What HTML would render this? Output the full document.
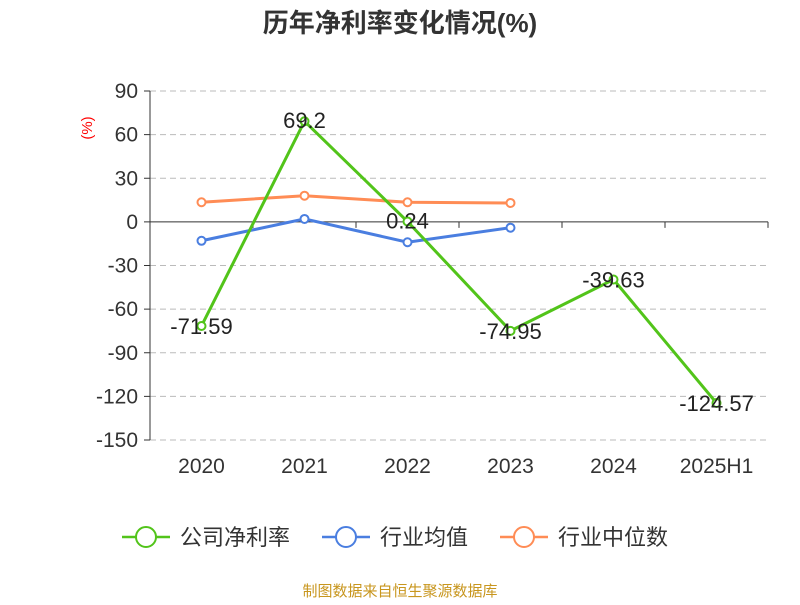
<!DOCTYPE html>
<html><head><meta charset="utf-8"><style>
body{margin:0;background:#fff;font-family:"Liberation Sans","Noto Sans CJK SC",sans-serif;}
svg text{font-family:"Liberation Sans","Noto Sans CJK SC",sans-serif;}
</style></head><body>
<svg id="c" width="800" height="600" viewBox="0 0 800 600">
<text x="400" y="32" text-anchor="middle" font-size="26" font-weight="bold" fill="#333">历年净利率变化情况(%)</text>
<text x="92" y="128" font-size="15" fill="red" transform="rotate(-90 92 128)" text-anchor="middle">(%)</text>
<g id="grid"></g><g id="series"></g>
<g>
<g><line x1="122" y1="537" x2="170" y2="537" stroke="#52c41a" stroke-width="2.5"/><circle cx="146" cy="537" r="10" fill="#fff" stroke="#52c41a" stroke-width="2"/><text x="180" y="545" font-size="22" fill="#333">公司净利率</text></g>
<g><line x1="322" y1="537" x2="370" y2="537" stroke="#4a7ee0" stroke-width="2.5"/><circle cx="346" cy="537" r="10" fill="#fff" stroke="#4a7ee0" stroke-width="2"/><text x="380" y="545" font-size="22" fill="#333">行业均值</text></g>
<g><line x1="500" y1="537" x2="548" y2="537" stroke="#ff8c55" stroke-width="2.5"/><circle cx="524" cy="537" r="10" fill="#fff" stroke="#ff8c55" stroke-width="2"/><text x="558" y="545" font-size="22" fill="#333">行业中位数</text></g>
</g>
<text x="400" y="596" text-anchor="middle" font-size="15" fill="#c8961e">制图数据来自恒生聚源数据库</text>
</svg>
<script>
const categories=["2020","2021","2022","2023","2024","2025H1"];
const companyValues=[-71.59,69.2,0.24,-74.95,-39.63,-124.57];
const avgValues=[-13,2,-14,-4];
const medianValues=[13.5,18,13.5,13];
const yTicks=[90,60,30,0,-30,-60,-90,-120,-150];
const NS="http://www.w3.org/2000/svg";
const x0=150,x1=768,yTop=91,yBot=440,vMax=90,vMin=-150;
const bw=(x1-x0)/categories.length;
function xs(i){return x0+bw*(i+0.5);}
function ys(v){return yTop+(vMax-v)/(vMax-vMin)*(yBot-yTop);}
function mk(t,a,p){const e=document.createElementNS(NS,t);for(const k in a)e.setAttribute(k,a[k]);p.appendChild(e);return e;}
const g=document.getElementById('grid'),s=document.getElementById('series');
yTicks.forEach(v=>{
 const y=ys(v);
 if(v!==0){const l=mk('line',{x1:x0,x2:x1,y1:y,y2:y,stroke:'#bbb','stroke-dasharray':'6,4'},g);
 
 }
 mk('line',{x1:x0-6,x2:x0,y1:y,y2:y,stroke:'#333'},g);
 const t=mk('text',{x:x0-12,y:y+7,'text-anchor':'end','font-size':21,fill:'#333'},g);t.textContent=v;
 
 
});
mk('line',{x1:x0,x2:x0,y1:yTop,y2:yBot,stroke:'#333'},g);
const z=ys(0);
const ax=mk('line',{x1:x0,x2:x1,y1:z,y2:z,stroke:'#333'},g);


for(let i=0;i<=categories.length;i++)mk('line',{x1:x0+bw*i,x2:x0+bw*i,y1:z,y2:z+6,stroke:'#333'},g);
categories.forEach((c,i)=>{const t=mk('text',{x:xs(i),y:473,'text-anchor':'middle','font-size':21,fill:'#333'},g);t.textContent=c;
 
 });
function series(vals,color,name,labels){
 const pts=vals.map((v,i)=>xs(i)+','+ys(v)).join(' ');
 const pl=mk('polyline',{points:pts,fill:'none',stroke:color,'stroke-width':3},s);
 
 
 vals.forEach((v,i)=>{
  const c=mk('circle',{cx:xs(i),cy:ys(v),r:4,fill:'#fff',stroke:color,'stroke-width':2},s);
  
  
  if(labels){const t=mk('text',{x:xs(i),y:ys(v)+(v<0?8:7),'text-anchor':'middle','font-size':22,fill:'#222'},s);t.textContent=v;
   
   }
 });
}
series(medianValues,'#ff8c55','industry-median');
series(avgValues,'#4a7ee0','industry-avg');
series(companyValues,'#52c41a','company',true);
</script>
</body></html>
